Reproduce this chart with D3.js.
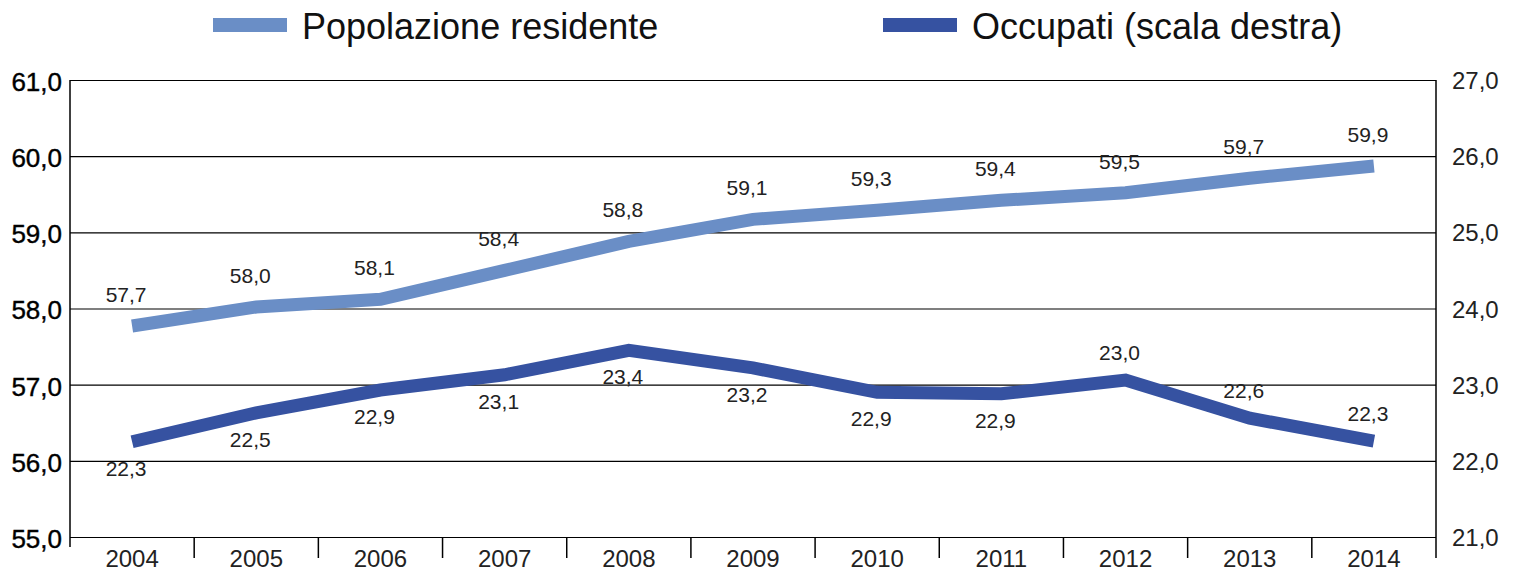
<!DOCTYPE html>
<html>
<head>
<meta charset="utf-8">
<script src="https://cdn.jsdelivr.net/npm/d3@7"></script>
<style>
  body { margin: 0; background: #fff; }
  svg { font-family: "Liberation Sans", Helvetica, Arial, sans-serif; }
</style>
</head>
<body>
<svg id="chart" width="1518" height="573"></svg>
<script>
// anni sull'asse x
const years = ["2004", "2005", "2006", "2007", "2008", "2009", "2010", "2011", "2012", "2013", "2014"];

// popolazione residente (milioni, scala sinistra)
const popolazione = [57.77, 58.02, 58.12, 58.5, 58.88, 59.17, 59.29, 59.42, 59.52, 59.71, 59.87];
const popolazioneLabels = ["57,7", "58,0", "58,1", "58,4", "58,8", "59,1", "59,3", "59,4", "59,5", "59,7", "59,9"];

// occupati (milioni, scala destra)
const occupati = [22.25, 22.63, 22.93, 23.13, 23.45, 23.22, 22.9, 22.88, 23.06, 22.56, 22.26];
const occupatiLabels = ["22,3", "22,5", "22,9", "23,1", "23,4", "23,2", "22,9", "22,9", "23,0", "22,6", "22,3"];
const occupatiLabelPos = ["below", "below", "below", "below", "below", "below", "below", "below", "above", "above", "above"];

const leftTicks = [55, 56, 57, 58, 59, 60, 61];
const rightTicks = [21, 22, 23, 24, 25, 26, 27];

const colors = {
    popolazione: "#6a8ec6",
    occupati: "#3652a1"
};

const plotLeft = 70, plotRight = 1436, plotTop = 80, plotBottom = 537;

const svg = d3.select("#chart");
const fmt = d => d3.format(".1f")(d).replace(".", ",");

const xScale = d3.scaleBand().domain(years).range([plotLeft, plotRight]);
const yLeft = d3.scaleLinear().domain([55, 61]).range([plotBottom, plotTop]);
const yRight = d3.scaleLinear().domain([21, 27]).range([plotBottom, plotTop]);

// gridlines + left axis
const gLeft = svg.append("g")
    .attr("transform", `translate(${plotLeft}, 0)`)
    .call(d3.axisLeft(yLeft).tickValues(leftTicks).tickSize(-(plotRight - plotLeft)).tickPadding(8).tickFormat(fmt));
gLeft.select(".domain").remove();
gLeft.selectAll(".tick line").attr("stroke", "#000").attr("stroke-width", 1.2);
gLeft.selectAll(".tick text")
    .attr("font-size", 26).attr("fill", "#000").attr("stroke", "#000").attr("stroke-width", 0.4)
    .attr("dy", "0.4em");

svg.append("line")
    .attr("x1", plotLeft).attr("x2", plotLeft).attr("y1", plotTop).attr("y2", plotBottom + 10)
    .attr("stroke", "#000").attr("stroke-width", 1.5);

// right axis
const gRight = svg.append("g")
    .attr("transform", `translate(${plotRight}, 0)`)
    .call(d3.axisRight(yRight).tickValues(rightTicks).tickSize(0).tickPadding(16).tickFormat(fmt));
gRight.select(".domain").remove();
gRight.selectAll(".tick text").attr("font-size", 24).attr("fill", "#222").attr("dy", "0.36em");

svg.append("line")
    .attr("x1", plotRight).attr("x2", plotRight).attr("y1", plotTop).attr("y2", plotBottom + 21)
    .attr("stroke", "#000").attr("stroke-width", 1.5);

// x axis
const gX = svg.append("g")
    .attr("transform", `translate(0, ${plotBottom})`)
    .call(d3.axisBottom(xScale).tickSize(0).tickPadding(13));
gX.select(".domain").remove();
gX.selectAll(".tick text").attr("font-size", 24).attr("fill", "#222");

svg.append("g")
    .selectAll("line")
    .data(years.slice(1))
    .join("line")
    .attr("x1", d => xScale(d)).attr("x2", d => xScale(d))
    .attr("y1", plotBottom).attr("y2", plotBottom + 21)
    .attr("stroke", "#000").attr("stroke-width", 1.5);

const cx = d => xScale(d) + xScale.bandwidth() / 2;

// lines
const linePop = d3.line().x((d, i) => cx(years[i])).y(d => yLeft(d));
const lineOcc = d3.line().x((d, i) => cx(years[i])).y(d => yRight(d));

svg.append("path")
    .datum(popolazione)
    .attr("d", linePop)
    .attr("fill", "none")
    .attr("stroke", colors.popolazione)
    .attr("stroke-width", 13);

svg.append("path")
    .datum(occupati)
    .attr("d", lineOcc)
    .attr("fill", "none")
    .attr("stroke", colors.occupati)
    .attr("stroke-width", 13);

// data labels
svg.append("g")
    .selectAll("text")
    .data(popolazione)
    .join("text")
    .attr("x", (d, i) => cx(years[i]) - 6)
    .attr("y", d => yLeft(d) - 24)
    .attr("text-anchor", "middle")
    .attr("font-size", 21)
    .attr("fill", "#222")
    .text((d, i) => popolazioneLabels[i]);

svg.append("g")
    .selectAll("text")
    .data(occupati)
    .join("text")
    .attr("x", (d, i) => cx(years[i]) - 6)
    .attr("y", (d, i) => yRight(d) + (occupatiLabelPos[i] === "below" ? 34 : -20))
    .attr("text-anchor", "middle")
    .attr("font-size", 21)
    .attr("fill", "#222")
    .text((d, i) => occupatiLabels[i]);

// legend
const legendItems = [
    { name: "Popolazione residente", color: colors.popolazione, x: 213 },
    { name: "Occupati (scala destra)", color: colors.occupati, x: 883 }
];
const legend = svg.append("g")
    .selectAll("g")
    .data(legendItems)
    .join("g")
    .attr("transform", d => `translate(${d.x}, 0)`);
legend.append("rect")
    .attr("x", 0).attr("y", 18).attr("width", 74).attr("height", 14)
    .attr("fill", d => d.color);
legend.append("text")
    .attr("x", 89).attr("y", 39)
    .attr("font-size", 36)
    .attr("fill", "#111")
    .text(d => d.name);
</script>
</body>
</html>
